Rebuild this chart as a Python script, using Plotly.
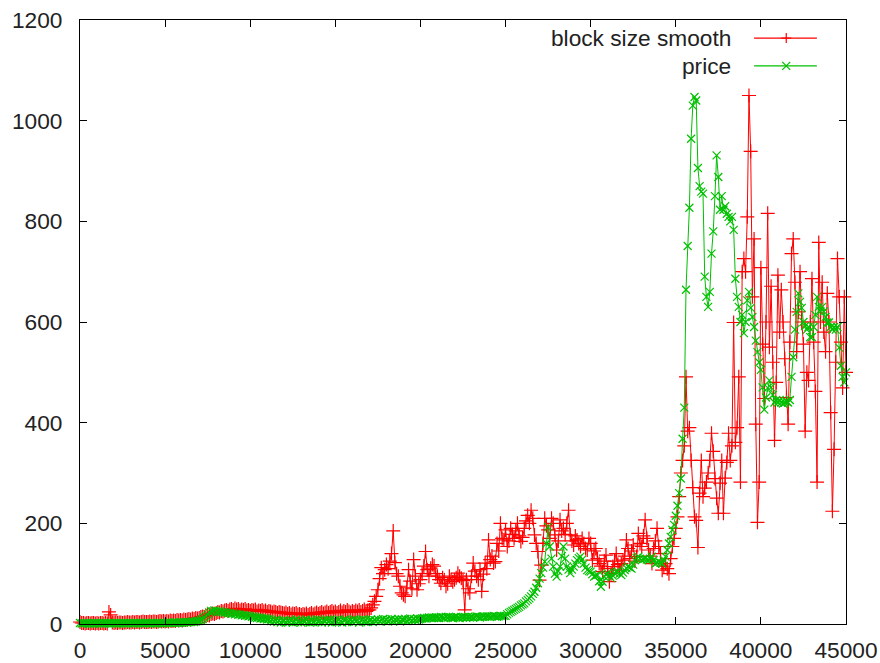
import plotly.graph_objects as go

# block heights (x categories), one sample every 100 blocks
block_height = list(range(0, 45001, 100))

block_size_smooth = [
    4,2,2,1,2,2,1,2,2,1,
    2,1,2,2,1,2,1,24,18,3,
    2,3,2,3,3,2,3,3,4,3,
    3,4,3,4,4,3,4,5,4,4,
    4,5,4,5,5,4,5,6,5,6,
    5,6,5,7,6,7,6,8,7,8,
    7,9,8,9,10,9,11,10,12,11,
    12,14,15,14,16,18,17,20,21,20,
    22,24,23,26,25,27,28,26,29,30,
    28,31,29,30,27,29,28,30,27,28,
    26,28,27,29,25,27,26,28,25,27,
    24,26,25,23,25,24,22,24,23,22,
    21,23,20,22,19,21,20,22,19,20,
    18,20,19,21,18,20,22,19,21,23,
    20,22,24,21,23,25,22,24,26,23,
    25,22,24,27,23,26,24,28,25,23,
    26,24,27,25,28,24,26,29,25,27,
    28,32,38,45,55,68,90,112,100,108,
    118,110,125,140,185,122,100,95,75,62,
    58,55,72,108,85,70,128,95,68,80,
    88,100,115,144,108,95,111,118,115,100,
    95,88,81,92,88,75,80,95,88,84,
    88,92,101,95,91,86,28,88,70,62,
    95,121,105,95,88,108,65,99,121,110,
    167,128,135,121,124,160,145,200,170,167,
    187,154,165,190,178,170,185,200,175,164,
    172,190,205,216,200,226,210,177,160,144,
    87,117,160,210,195,187,170,210,200,177,
    147,165,207,185,190,178,200,226,177,165,
    157,175,167,160,154,170,160,150,147,170,
    160,127,145,150,130,120,115,104,125,137,
    110,84,100,114,125,140,118,107,120,127,
    135,167,150,130,145,157,125,134,180,160,
    154,175,207,170,147,135,120,150,165,190,
    154,140,107,115,120,110,100,130,154,170,
    190,213,253,300,325,354,491,383,390,325,
    271,213,206,152,260,325,253,270,282,300,
    325,379,343,289,250,220,280,325,220,290,
    321,379,325,354,599,361,390,491,282,700,
    726,700,809,1050,939,650,765,397,202,282,
    708,556,448,600,816,550,671,520,365,480,
    693,580,664,600,527,450,397,560,736,765,
    679,541,620,700,600,556,383,500,484,600,
    686,560,462,282,758,600,679,580,541,657,
    600,420,224,347,520,726,650,560,469,650,
    500,
]

price = [
    2,1,2,1,2,1,1,2,1,2,
    1,2,1,2,1,2,2,1,2,1,
    2,1,2,1,2,2,1,2,1,2,
    2,1,2,2,1,2,2,1,2,2,
    2,1,2,2,1,2,2,2,1,2,
    2,2,3,2,2,3,2,3,2,3,
    3,3,4,3,4,4,5,4,5,6,
    6,8,10,13,16,19,23,26,25,27,
    26,24,25,23,24,22,23,21,22,20,
    21,19,20,18,19,17,18,16,17,15,
    16,14,15,13,12,13,11,12,10,11,
    9,10,6,9,5,8,4,7,3,6,
    7,3,6,4,8,3,5,9,4,6,
    3,7,4,9,5,3,8,4,6,9,
    4,8,3,7,5,9,4,8,3,6,
    8,4,9,5,3,7,9,4,6,8,
    4,9,5,8,3,7,9,5,8,4,
    7,9,4,8,6,9,5,8,10,6,
    9,5,8,10,6,9,7,10,5,9,
    8,10,6,9,11,7,10,8,11,9,
    10,11,12,11,12,13,12,13,12,13,
    13,12,14,13,12,14,13,14,13,12,
    13,14,13,12,14,13,14,13,14,13,
    14,13,14,15,14,13,14,15,14,15,
    15,14,15,16,15,14,15,16,15,16,
    16,19,22,24,26,28,30,32,34,37,
    39,41,45,48,51,55,60,64,72,81,
    90,101,112,124,160,193,154,130,114,100,
    94,105,114,135,154,130,114,108,101,108,
    114,120,127,131,134,128,120,112,107,105,
    104,99,94,96,97,85,74,84,94,98,
    101,96,91,96,101,103,104,100,97,102,
    107,111,114,112,110,118,127,131,134,130,
    127,129,130,128,127,130,134,127,120,122,
    124,122,120,127,134,147,160,173,187,197,
    215,235,260,289,368,430,664,751,827,964,
    1030,1047,1040,906,870,859,855,690,650,630,
    660,736,780,850,931,888,823,850,823,830,
    815,809,800,809,783,686,650,630,600,614,
    578,600,643,660,628,610,590,563,540,520,
    505,470,426,450,469,484,470,455,440,445,
    440,445,440,438,440,442,440,445,491,530,
    585,620,657,640,628,600,592,585,590,570,
    570,590,614,650,630,621,630,621,610,599,
    599,590,585,590,585,590,549,513,491,480,
    500,
]

series_names = ["block size smooth", "price"]
series_colors = ["#ff0000", "#00c000"]
x_ticks = list(range(0, 45001, 5000))
y_ticks = list(range(0, 1201, 200))

FONT = "Liberation Sans, Arial, sans-serif"
FSIZE = 22.7

fig = go.Figure()
fig.add_trace(go.Scatter(
    x=block_height, y=block_size_smooth, mode="lines+markers", name=series_names[0],
    line=dict(color=series_colors[0], width=1),
    marker=dict(symbol="cross-thin", size=10, color=series_colors[0],
                line=dict(color=series_colors[0], width=1.2)),
    showlegend=False, cliponaxis=False,
))
fig.add_trace(go.Scatter(
    x=block_height, y=price, mode="lines+markers", name=series_names[1],
    line=dict(color=series_colors[1], width=1),
    marker=dict(symbol="x-thin", size=8, color=series_colors[1],
                line=dict(color=series_colors[1], width=1.2)),
    showlegend=False, cliponaxis=False,
))

# gnuplot-style key: text right-aligned, sample line with a point to the right
key_rows = [0.970, 0.924]
shapes = []
annotations = []
for name, color, yk, sym in zip(series_names, series_colors, key_rows, ["+", "x"]):
    annotations.append(dict(
        x=0.8525, y=yk, xref="paper", yref="paper", xanchor="right", yanchor="middle",
        text=name, showarrow=False, font=dict(family=FONT, size=FSIZE, color="#222222"),
    ))
    shapes.append(dict(type="line", xref="paper", yref="paper",
                       x0=0.880, x1=0.962, y0=yk, y1=yk,
                       line=dict(color=color, width=1.2)))
    if sym == "+":
        segs = [(-5, 0, 5, 0), (0, -5, 0, 5)]
    else:
        segs = [(-4, -4, 4, 4), (-4, 4, 4, -4)]
    for (a, b, c, d) in segs:
        shapes.append(dict(type="line", xref="paper", yref="paper",
                           xsizemode="pixel", ysizemode="pixel",
                           xanchor=0.922, yanchor=yk,
                           x0=a, x1=c, y0=b, y1=d,
                           line=dict(color=color, width=1.2)))

axis_common = dict(
    showline=True, linecolor="black", linewidth=1, mirror="allticks",
    ticks="inside", ticklen=7, tickcolor="black", tickwidth=1,
    showgrid=False, zeroline=False, automargin=False,
    tickfont=dict(family=FONT, size=FSIZE, color="#222222"),
)

fig.update_layout(
    width=880, height=663,
    margin=dict(l=80, r=34, t=20, b=39, pad=0),
    paper_bgcolor="white", plot_bgcolor="white",
    xaxis=dict(range=[0, 45000], tickvals=x_ticks,
               ticktext=[str(v) for v in x_ticks], ticklabelstandoff=6, **axis_common),
    yaxis=dict(range=[0, 1200], tickvals=y_ticks,
               ticktext=[str(v) for v in y_ticks], ticklabelstandoff=12, **axis_common),
    shapes=shapes, annotations=annotations,
    font=dict(family=FONT),
)

fig.write_html("out.html")
